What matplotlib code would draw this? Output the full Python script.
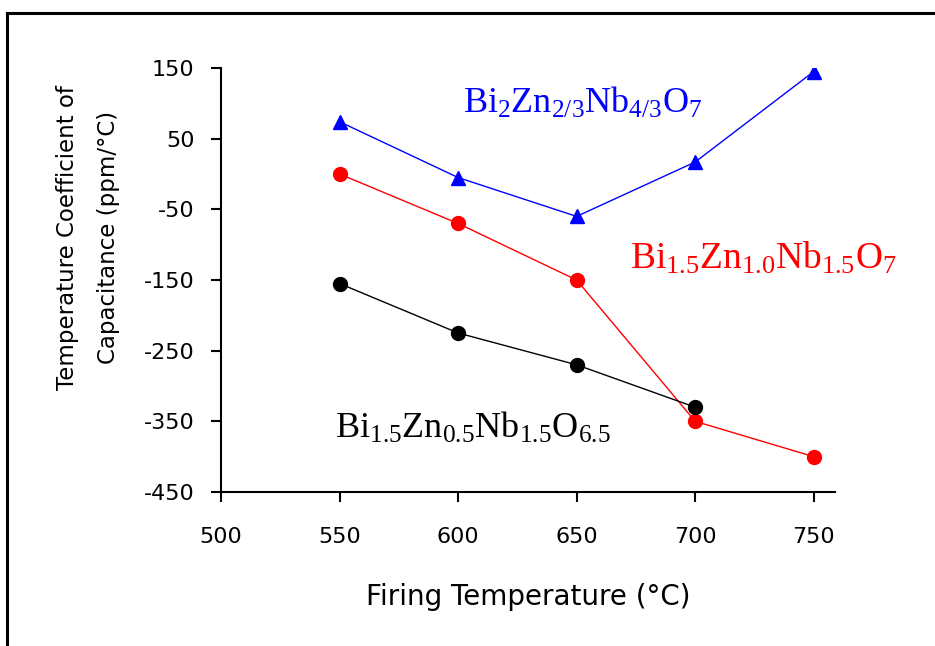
import matplotlib
matplotlib.use("Agg")
import matplotlib.pyplot as plt
from matplotlib.lines import Line2D

plt.rcParams["font.family"] = "DejaVu Sans"
plt.rcParams["axes.unicode_minus"] = False
plt.rcParams["mathtext.fontset"] = "custom"
plt.rcParams["mathtext.rm"] = "Liberation Serif"
plt.rcParams["mathtext.it"] = "Liberation Serif:italic"

# firing temperatures (C) and TCC values (ppm/C) for each composition
temps = [550, 600, 650, 700, 750]
tcc_bzn_cubic = [74, -5, -60, 17, 145]          # Bi2Zn2/3Nb4/3O7
tcc_bzn_10 = [0, -70, -150, -350, -400]         # Bi1.5Zn1.0Nb1.5O7
temps_bzn_05 = [550, 600, 650, 700]
tcc_bzn_05 = [-155, -225, -270, -330]           # Bi1.5Zn0.5Nb1.5O6.5

x_ticks = [500, 550, 600, 650, 700, 750]
y_ticks = [150, 50, -50, -150, -250, -350, -450]

fig = plt.figure(figsize=(9.35, 6.46), dpi=100)
ax = fig.add_axes([0.2364, 0.2384, 0.6567, 0.6563])

ax.plot(temps, tcc_bzn_cubic, color="#0000ff", lw=1.0, marker="^", ms=10,
        mec="#0000ff", mfc="#0000ff")
ax.plot(temps, tcc_bzn_10, color="#ff0000", lw=1.0, marker="o", ms=10,
        mec="#ff0000", mfc="#ff0000")
ax.plot(temps_bzn_05, tcc_bzn_05, color="black", lw=1.0, marker="o", ms=10,
        mec="black", mfc="black")

ax.set_xlim(500, 759)
ax.set_ylim(-450, 150)
ax.set_xticks(x_ticks)
ax.set_yticks(y_ticks)
ax.spines["top"].set_visible(False)
ax.spines["right"].set_visible(False)
ax.spines["left"].set_linewidth(1.5)
ax.spines["bottom"].set_linewidth(1.5)
ax.tick_params(direction="out", length=7, width=1.5, labelsize=16)
ax.tick_params(axis="y", pad=12)
ax.tick_params(axis="x", pad=18)

ax.set_xlabel("Firing Temperature (°C)", fontsize=20, labelpad=26)
ax.set_ylabel("Temperature Coefficient of\nCapacitance (ppm/°C)", fontsize=16.5,
              linespacing=2.0)
ax.yaxis.set_label_coords(-0.165, 0.60)

label_kw = dict(fontsize=26, ha="left", va="baseline", transform=ax.transAxes)
ax.text(0.394, 0.894, r"$\mathrm{Bi_{2}Zn_{2/3}Nb_{4/3}O_{7}}$", color="#0000ff",
        **label_kw)
ax.text(0.666, 0.528, r"$\mathrm{Bi_{1.5}Zn_{1.0}Nb_{1.5}O_{7}}$", color="#ff0000",
        fontsize=27, ha="left", va="baseline", transform=ax.transAxes)
ax.text(0.186, 0.127, r"$\mathrm{Bi_{1.5}Zn_{0.5}Nb_{1.5}O_{6.5}}$", color="black",
        **label_kw)

# outer frame: top and left edges only
fig.add_artist(Line2D([0.0075, 1.0], [0.98, 0.98], color="black", lw=2.2,
                      transform=fig.transFigure))
fig.add_artist(Line2D([0.0075, 0.0075], [0.0, 0.98], color="black", lw=2.2,
                      transform=fig.transFigure))

fig.savefig("out.png", dpi=100)
